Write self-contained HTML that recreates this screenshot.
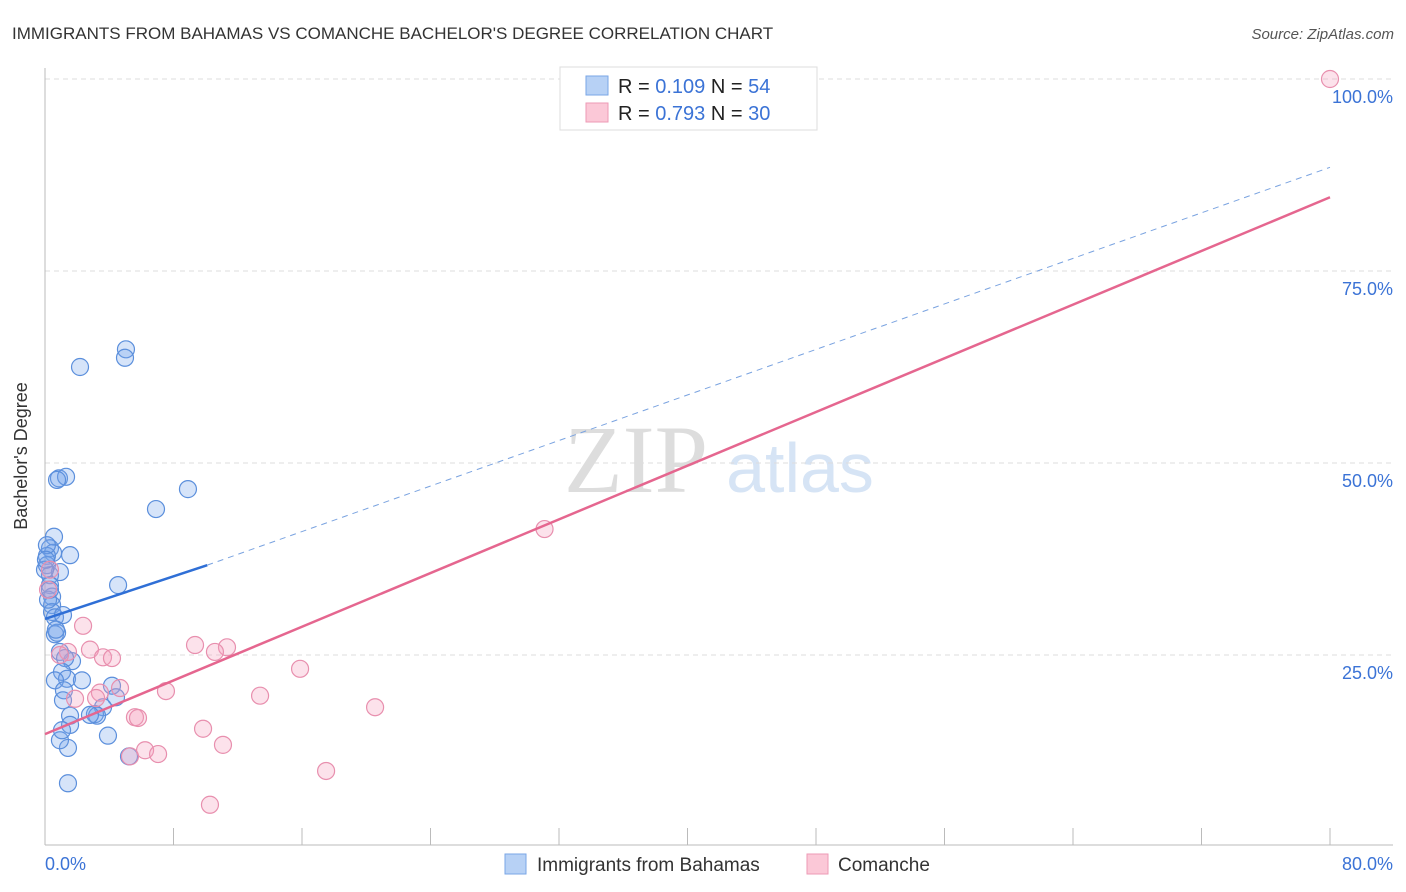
<!DOCTYPE html>
<html><head><meta charset="utf-8"><style>
body{margin:0;background:#fff;font-family:"Liberation Sans",sans-serif}
svg{display:block}
</style></head><body>
<svg id="c" width="1406" height="892" xmlns="http://www.w3.org/2000/svg">
<text x="12" y="39" font-size="17" fill="#333">IMMIGRANTS FROM BAHAMAS VS COMANCHE BACHELOR'S DEGREE CORRELATION CHART</text>
<text x="1394" y="39" font-size="15" fill="#555" font-style="italic" text-anchor="end">Source: ZipAtlas.com</text>
<text x="636" y="492" font-size="96" fill="#ddd" font-family="Liberation Serif,serif" text-anchor="middle">ZIP</text>
<text x="800" y="492" font-size="70" fill="#d6e4f5" text-anchor="middle">atlas</text>
<g id="grid"></g>
<line x1="45" y1="68" x2="45" y2="845" stroke="#bbb"/>
<line x1="45" y1="845" x2="1393" y2="845" stroke="#bbb"/>
<text x="27" y="456" font-size="18" fill="#333" text-anchor="middle" transform="rotate(-90 27 456)">Bachelor's Degree</text>
<g id="pts"></g>
<g id="lines"></g>
<g>
<rect x="560" y="67" width="257" height="63" fill="#fff" stroke="#ddd"/>
<rect x="586" y="76" width="22" height="19" fill="#b7d1f5" stroke="#7aa6e6"/>
<rect x="586" y="103" width="22" height="19" fill="#fbc8d7" stroke="#ee9ab5"/>
<text x="618" y="93" font-size="20" fill="#222">R = <tspan fill="#3b73d6">0.109</tspan>   N = <tspan fill="#3b73d6">54</tspan></text>
<text x="618" y="120" font-size="20" fill="#222">R = <tspan fill="#3b73d6">0.793</tspan>   N = <tspan fill="#3b73d6">30</tspan></text>
</g>
<g>
<rect x="505" y="854" width="21" height="20" fill="#b7d1f5" stroke="#7aa6e6"/>
<text x="537" y="871" font-size="19" fill="#333">Immigrants from Bahamas</text>
<rect x="807" y="854" width="21" height="20" fill="#fbc8d7" stroke="#ee9ab5"/>
<text x="838" y="871" font-size="19" fill="#333">Comanche</text>
</g>
<text x="45" y="870" font-size="18" fill="#3b73d6">0.0%</text>
<text x="1393" y="870" font-size="18" fill="#3b73d6" text-anchor="end">80.0%</text>
</svg>
<script>
const yTicks=[25,50,75,100];
const yTickLabels=["25.0%","50.0%","75.0%","100.0%"];
const xTicks=[8,16,24,32,40,48,56,64,72,80];
const blueX=[2.18,5.04,4.98,0.87,1.31,0.75,8.90,6.91,0.56,0.31,0.50,1.56,0.12,0.12,0.31,0.93,4.55,0.31,0.44,0.44,0.44,0.62,1.12,0.62,0.75,0.93,1.68,1.25,1.06,1.37,2.30,0.62,1.18,4.17,4.42,1.12,3.61,3.11,3.24,1.56,1.56,3.92,1.43,5.23,1.43,0,0.12,0.19,0.68,0.93,1.06,2.80,0.31,0.06];
const blueY=[62.5,64.8,63.7,48.0,48.2,47.8,46.6,44.0,40.4,38.9,38.3,38.0,37.9,36.7,35.4,35.8,34.1,34.1,32.6,31.5,30.6,29.9,30.2,27.7,27.9,25.4,24.2,24.6,22.8,21.9,21.7,21.7,20.4,21.0,19.5,19.1,18.2,17.3,17.1,17.1,15.9,14.5,12.9,11.8,8.3,36.1,39.3,32.2,28.3,13.9,15.2,17.2,33.5,37.4];
const pinkX=[80,31.1,2.37,9.34,11.33,10.58,2.80,1.43,3.61,4.17,15.88,4.67,3.42,7.53,1.87,13.39,3.18,20.55,5.60,5.79,9.84,11.08,6.23,7.04,5.29,17.50,10.27,0.31,0.19,0.93];
const pinkY=[100,41.4,28.8,26.3,26.0,25.4,25.7,25.4,24.7,24.6,23.2,20.7,20.1,20.3,19.3,19.7,19.4,18.2,16.9,16.8,15.4,13.3,12.6,12.1,11.8,9.9,5.5,36.1,33.5,25.0];
const blueTrend=[[0,29.7],[10.1,36.7],[80,88.5]];
const pinkTrend=[[0,14.7],[80,84.6]];
const X=v=>45+v*(1285/80);
const Y=v=>847-v*7.68;
const NS="http://www.w3.org/2000/svg";
function mk(tag,parent,attrs){const e=document.createElementNS(NS,tag);for(const k in attrs)e.setAttribute(k,attrs[k]);parent.appendChild(e);return e;}
const grid=document.getElementById('grid');
yTicks.forEach((t,i)=>{
 const l=mk('line',grid,{x1:45,x2:1393,y1:Y(t),y2:Y(t),stroke:'#ddd','stroke-dasharray':'5,4'});
 
 
 const tx=mk('text',grid,{x:1393,y:Y(t)+24,'font-size':18,fill:'#3b73d6','text-anchor':'end'});
 tx.textContent=yTickLabels[i];
 
 
});
xTicks.forEach(t=>{
 const l=mk('line',grid,{x1:X(t),x2:X(t),y1:828,y2:845,stroke:'#bbb'});
 
 
});
const pts=document.getElementById('pts');
blueX.forEach((x,i)=>{
 const c=mk('circle',pts,{cx:X(x),cy:Y(blueY[i]),r:8.5,fill:'rgba(120,165,235,0.3)',stroke:'#5b8fdc','stroke-width':1.2});
 
 
});
pinkX.forEach((x,i)=>{
 const c=mk('circle',pts,{cx:X(x),cy:Y(pinkY[i]),r:8.5,fill:'rgba(245,160,190,0.3)',stroke:'#e88fae','stroke-width':1.2});
 
 
});
const lines=document.getElementById('lines');
const b1=mk('line',lines,{x1:X(blueTrend[0][0]),y1:Y(blueTrend[0][1]),x2:X(blueTrend[1][0]),y2:Y(blueTrend[1][1]),stroke:'#2f6fd6','stroke-width':2.5});


const b2=mk('line',lines,{x1:X(blueTrend[1][0]),y1:Y(blueTrend[1][1]),x2:X(blueTrend[2][0]),y2:Y(blueTrend[2][1]),stroke:'#7aa3e0','stroke-width':1,'stroke-dasharray':'6,5'});


const p1=mk('line',lines,{x1:X(pinkTrend[0][0]),y1:Y(pinkTrend[0][1]),x2:X(pinkTrend[1][0]),y2:Y(pinkTrend[1][1]),stroke:'#e5668f','stroke-width':2.5});


</script>
</body></html>
